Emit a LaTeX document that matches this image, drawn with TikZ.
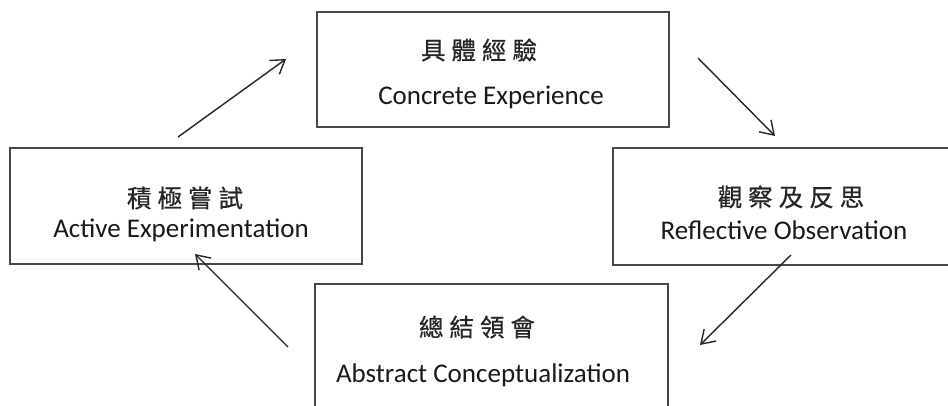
\documentclass[tikz,border=0pt]{standalone}
\usepackage{fontspec}
\setmainfont{Carlito}
\newfontfamily\cjk[FakeBold=0.6]{Noto Sans CJK TC}
\usetikzlibrary{arrows.meta}
\tikzset{
  box/.style={draw=black!72, line width=1.9pt, inner sep=0pt},
  entext/.style={font=\fontsize{27}{32}\selectfont, text=black!90, anchor=base, inner sep=0pt},
  cjtext/.style={font=\cjk\fontsize{24.5}{28}\selectfont, text=black!85, inner sep=0pt},
  flow/.style={draw=black!85, line width=1.4pt, -{Straight Barb[length=13pt,width=17pt,line width=1.4pt]}}
}
\begin{document}
\begin{tikzpicture}[x=1pt,y=-1pt]
\useasboundingbox (0,0) rectangle (948,406);
\fill[white] (0,0) rectangle (948,406);
% boxes
\node[box, minimum width=352pt, minimum height=115pt] (ce) at (493,69.5) {};
\node[box, minimum width=352pt, minimum height=116pt] (ae) at (186,206) {};
\node[box, minimum width=347pt, minimum height=117pt] (ro) at (786.5,206.5) {};
\node[box, minimum width=353pt, minimum height=136pt] (ac) at (491.5,352) {};
% texts
\node[cjtext] (ce1) at (479,50) {具\hspace{6pt}體\hspace{6pt}經\hspace{6pt}驗};
\node[entext] (ce2) at (491,105) {Concrete Experience};
\node[cjtext] (ae1) at (185,198) {積\hspace{6pt}極\hspace{6pt}嘗\hspace{6pt}試};
\node[entext] (ae2) at (181,238) {Active Experimentation};
\node[cjtext] (ro1) at (791,197) {觀\hspace{6pt}察\hspace{6pt}及\hspace{6pt}反\hspace{6pt}思};
\node[entext] (ro2) at (784,240) {Reflective Observation};
\node[cjtext] (ac1) at (477,327) {總\hspace{6pt}結\hspace{6pt}領\hspace{6pt}會};
\node[entext] (ac2) at (483,382) {Abstract Conceptualization};
% arrow ends
\coordinate (a1s) at (178,137);
\coordinate (a1e) at (286,59);
\coordinate (a2s) at (698,58);
\coordinate (a2e) at (775,136);
\coordinate (a3s) at (791,255);
\coordinate (a3e) at (700,345);
\coordinate (a4s) at (288,347);
\coordinate (a4e) at (195,254);
\draw[flow] (a1s) -- (a1e);
\draw[flow] (a2s) -- (a2e);
\draw[flow] (a3s) -- (a3e);
\draw[flow] (a4s) -- (a4e);
\end{tikzpicture}
\end{document}
